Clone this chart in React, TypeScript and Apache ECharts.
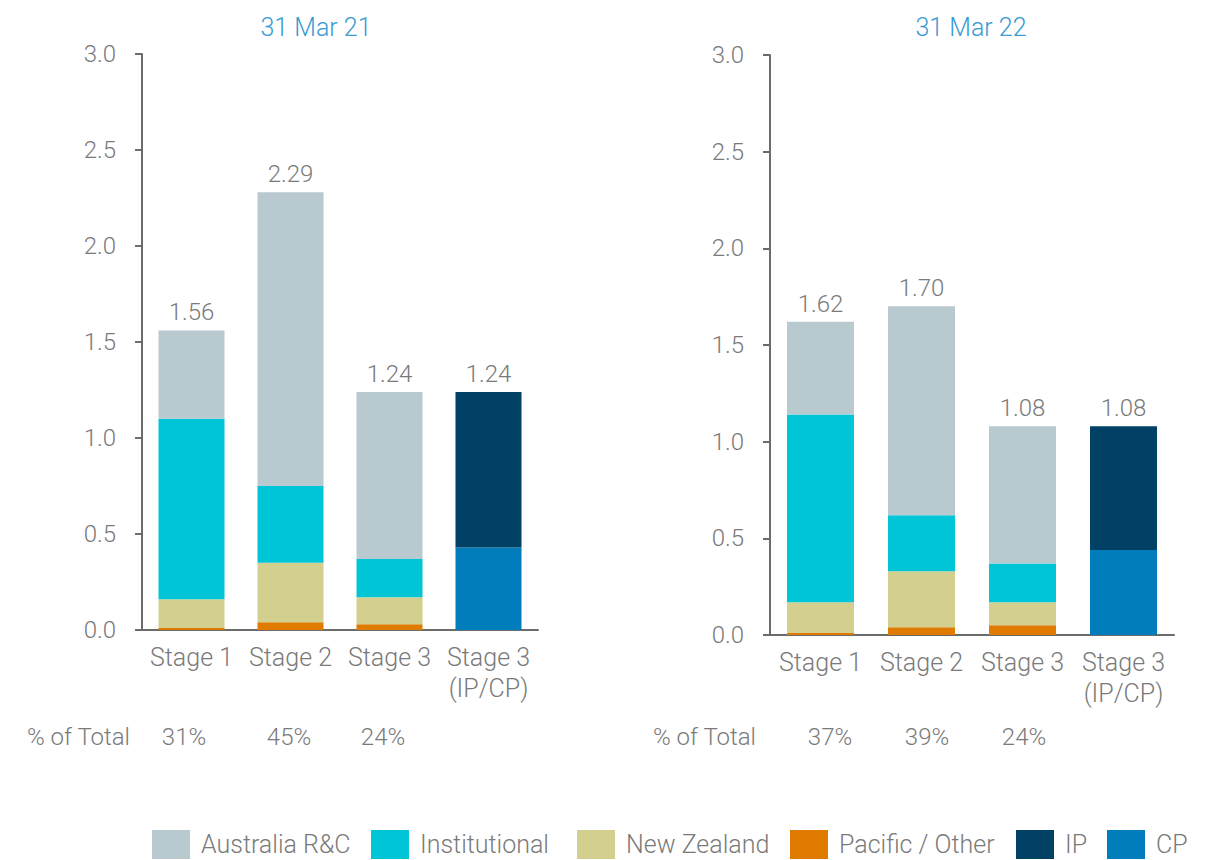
import React, { useEffect, useRef } from "react";
import * as echarts from "echarts";

const categories = ["Stage 1", "Stage 2", "Stage 3", "Stage 3\n(IP/CP)"];
const titles = ["31 Mar 21", "31 Mar 22"];
const yTicks = [0, 0.5, 1.0, 1.5, 2.0, 2.5, 3.0];

// 31 Mar 21
const ausRC21 = [0.46, 1.53, 0.87, null];
const inst21 = [0.94, 0.4, 0.2, null];
const nz21 = [0.15, 0.31, 0.14, null];
const pac21 = [0.01, 0.04, 0.03, null];
const ip21 = [null, null, null, 0.81];
const cp21 = [null, null, null, 0.43];
const totals21 = [1.56, 2.29, 1.24, 1.24];
const pct21 = ["31%", "45%", "24%"];

// 31 Mar 22
const ausRC22 = [0.48, 1.08, 0.71, null];
const inst22 = [0.97, 0.29, 0.2, null];
const nz22 = [0.16, 0.29, 0.12, null];
const pac22 = [0.01, 0.04, 0.05, null];
const ip22 = [null, null, null, 0.64];
const cp22 = [null, null, null, 0.44];
const totals22 = [1.62, 1.7, 1.08, 1.08];
const pct22 = ["37%", "39%", "24%"];

const seriesNames = ["Australia R&C", "Institutional", "New Zealand", "Pacific / Other", "IP", "CP"];
const colors: Record<string, string> = {
  "Australia R&C": "#b9c9d0",
  Institutional: "#00c5d7",
  "New Zealand": "#d3cf8e",
  "Pacific / Other": "#df7b00",
  IP: "#004165",
  CP: "#007dba",
};

const FONT = "Roboto";
const GREY = "#7a7a7a";

export default function App() {
  const ref = useRef<HTMLDivElement>(null);
  useEffect(() => {
    if (!ref.current) return;
    const chart = echarts.init(ref.current, undefined, { renderer: "svg" });

    const toData = (arr: (number | null)[]) => arr.map((v) => (v === null ? "-" : v));

    const makeSeries = (
      idx: number,
      aus: (number | null)[],
      inst: (number | null)[],
      nz: (number | null)[],
      pac: (number | null)[],
      ip: (number | null)[],
      cp: (number | null)[],
      totals: number[],
      barWidth: number
    ) => {
      const label = {
        show: true,
        position: "top",
        distance: 6,
        color: GREY,
        fontFamily: FONT,
        fontWeight: 300,
        fontSize: 24,
        formatter: (p: any) => totals[p.dataIndex].toFixed(2),
      };
      const base = (name: string, data: (number | null)[], withLabel: boolean) => ({
        type: "bar",
        name,
        xAxisIndex: idx,
        yAxisIndex: idx,
        stack: "s" + idx,
        barWidth,
        data: toData(data),
        itemStyle: { color: colors[name] },
        label: withLabel ? label : { show: false },
      });
      return [
        base("Pacific / Other", pac, false),
        base("New Zealand", nz, false),
        base("Institutional", inst, false),
        base("Australia R&C", aus, true),
        base("CP", cp, false),
        base("IP", ip, true),
      ];
    };

    const grids = [
      { left: 142, top: 54, width: 396, height: 576 },
      { left: 770, top: 55, width: 404, height: 580 },
    ];

    const xAxes = grids.map((_, i) => ({
      type: "category",
      gridIndex: i,
      data: categories,
      axisTick: { show: false },
      axisLine: { lineStyle: { color: "#6b6b6b", width: 2 } },
      axisLabel: {
        color: GREY,
        fontFamily: FONT,
        fontWeight: 300,
        fontSize: 25,
        lineHeight: 31,
        margin: 12,
        interval: 0,
      },
    }));

    const yAxes = grids.map((_, i) => ({
      type: "value",
      gridIndex: i,
      min: yTicks[0],
      max: yTicks[yTicks.length - 1],
      interval: 0.5,
      splitLine: { show: false },
      axisLine: { show: true, lineStyle: { color: "#6b6b6b", width: 2 } },
      axisTick: { show: true, length: 7, lineStyle: { color: "#6b6b6b", width: 2 } },
      axisLabel: {
        color: GREY,
        fontFamily: FONT,
        fontWeight: 300,
        fontSize: 24,
        margin: 26,
        formatter: (v: number) => v.toFixed(1),
      },
    }));

    const pctText = (x: number, text: string, align: string) => ({
      type: "text",
      x,
      y: 737,
      style: {
        text,
        fill: GREY,
        fontFamily: FONT,
        fontWeight: 300,
        fontSize: 24,
        textAlign: align,
        textVerticalAlign: "middle",
      },
    });
    const pctX21 = [184, 289, 383];
    const pctX22 = [830, 927, 1024];

    const legendX = [152, 371, 577, 790, 1016, 1107];
    const legends = seriesNames.map((name, i) => ({
      data: [name],
      left: legendX[i],
      top: 830,
      padding: 0,
      icon: "rect",
      itemWidth: 38,
      itemHeight: 29,
      itemGap: 0,
      textStyle: {
        color: GREY,
        fontFamily: FONT,
        fontWeight: 300,
        fontSize: 25,
        padding: [0, 0, 0, 6],
      },
      selectedMode: false,
    }));

    const titleStyle = { color: "#3a9ad2", fontFamily: FONT, fontWeight: 300, fontSize: 25 };

    chart.setOption({
      animation: false,
      title: [
        { text: titles[0], left: 311, top: 10, textAlign: "center", textStyle: titleStyle },
        { text: titles[1], left: 966, top: 10, textAlign: "center", textStyle: titleStyle },
      ],
      grid: grids,
      xAxis: xAxes,
      yAxis: yAxes,
      legend: legends,
      series: [
        ...makeSeries(0, ausRC21, inst21, nz21, pac21, ip21, cp21, totals21, 66),
        ...makeSeries(1, ausRC22, inst22, nz22, pac22, ip22, cp22, totals22, 67),
      ],
      graphic: [
        pctText(27, "% of Total", "left"),
        ...pct21.map((t, i) => pctText(pctX21[i], t, "center")),
        pctText(653, "% of Total", "left"),
        ...pct22.map((t, i) => pctText(pctX22[i], t, "center")),
      ],
    });
    return () => chart.dispose();
  }, []);
  return (
    <div
      ref={ref}
      style={{ position: "fixed", left: 0, top: 0, width: 1210, height: 860, background: "#fff" }}
    />
  );
}
